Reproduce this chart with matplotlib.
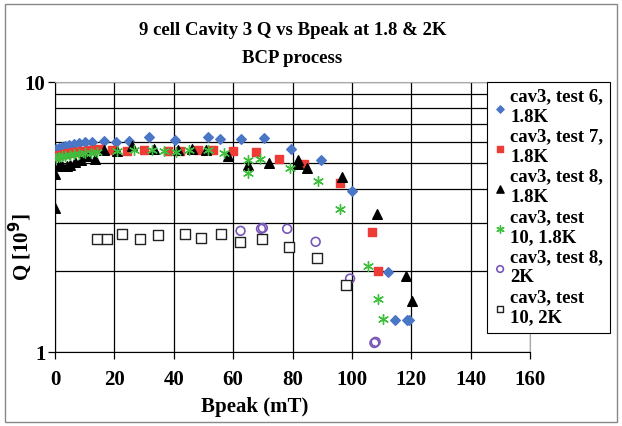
import matplotlib
matplotlib.use("Agg")
import matplotlib.pyplot as plt
from matplotlib.patches import Rectangle
from matplotlib.ticker import LogLocator, NullFormatter, FixedLocator, FixedFormatter, MultipleLocator

plt.rcParams['font.family'] = ['Liberation Serif', 'DejaVu Serif']
plt.rcParams['font.weight'] = 'bold'

# Q (units of 1e9) against peak field Bpeak (mT)
b_t6_18 = [0.5, 1.2, 2.4, 3.5, 4.6, 6.3, 8.0, 10.0, 12.3, 16.5, 20.7, 24.9, 31.7, 40.5,
           51.6, 55.6, 62.7, 70.5, 79.5, 89.7, 100.1, 112.3, 114.4, 118.5, 119.3]
q_t6_18 = [5.65, 5.70, 5.74, 5.78, 5.83, 5.90, 5.95, 5.98, 5.98, 6.07, 5.98, 6.03, 6.24, 6.12,
           6.24, 6.15, 6.15, 6.22, 5.67, 5.13, 3.95, 1.98, 1.31, 1.31, 1.31]

b_t7_18 = [0.5, 1.5, 3.0, 4.5, 6.0, 7.5, 9.1, 12.0, 14.8, 19.1, 24.1, 30.0, 38.2, 42.2,
           48.0, 53.1, 59.9, 67.7, 75.5, 83.8, 95.9, 106.9, 108.7]
q_t7_18 = [5.30, 5.35, 5.40, 5.45, 5.50, 5.52, 5.54, 5.58, 5.63, 5.58, 5.54, 5.58, 5.54, 5.54,
           5.58, 5.58, 5.54, 5.50, 5.20, 4.99, 4.21, 2.79, 1.99]

b_t8_18 = [0.0, 0.0, 1.2, 2.4, 4.1, 5.2, 6.9, 8.6, 10.8, 13.6, 16.5, 21.0, 26.0, 33.4,
           41.3, 46.3, 50.8, 58.4, 64.9, 72.2, 82.0, 82.0, 85.0, 96.7, 108.4, 118.2, 120.2]
q_t8_18 = [3.42, 4.56, 4.94, 4.90, 4.87, 4.94, 5.05, 5.16, 5.31, 5.17, 5.58, 5.54, 5.78, 5.65,
           5.58, 5.63, 5.58, 5.34, 4.94, 5.00, 5.15, 4.98, 4.82, 4.43, 3.24, 1.91, 1.55]

b_t10_18 = [0.5, 1.5, 2.5, 3.5, 5.0, 6.5, 8.0, 10.0, 12.0, 14.2, 21.0, 26.6, 32.8, 36.8,
            40.7, 45.2, 51.4, 57.0, 65.0, 65.0, 69.2, 79.0, 88.6, 95.9, 105.3, 108.7, 110.6]
q_t10_18 = [5.25, 5.28, 5.30, 5.33, 5.36, 5.40, 5.43, 5.46, 5.48, 5.50, 5.54, 5.58, 5.58, 5.54,
            5.50, 5.58, 5.58, 5.46, 5.16, 4.60, 5.18, 4.82, 4.30, 3.40, 2.09, 1.57, 1.32]

b_t8_2 = [62.5, 69.4, 70.0, 78.2, 87.8, 99.4, 107.6, 108.0]
q_t8_2 = [2.81, 2.86, 2.88, 2.86, 2.56, 1.87, 1.08, 1.09]

b_t10_2 = [14.0, 17.4, 22.5, 28.6, 34.8, 43.8, 49.1, 55.8, 62.3, 69.6, 78.9, 88.3, 98.0]
q_t10_2 = [2.62, 2.62, 2.73, 2.62, 2.71, 2.73, 2.64, 2.73, 2.56, 2.62, 2.44, 2.22, 1.77]

labels = ['cav3, test 6,\n1.8K', 'cav3, test 7,\n1.8K', 'cav3, test 8,\n1.8K',
          'cav3, test\n10, 1.8K', 'cav3, test 8,\n2K', 'cav3, test\n10, 2K']

fig = plt.figure(figsize=(6.22, 4.26), dpi=100)
ax = fig.add_axes([55 / 622, 1 - 352 / 426, 475 / 622, 270 / 426])

ax.scatter(b_t6_18, q_t6_18, marker='D', s=24, color='#4A76C6', label=labels[0], zorder=3)
ax.scatter(b_t7_18, q_t7_18, marker='s', s=28, color='#EE3B36', label=labels[1], zorder=3)
ax.scatter(b_t8_18, q_t8_18, marker='^', s=48, color='black', label=labels[2], zorder=3)
ax.scatter(b_t10_18, q_t10_18, marker=(6, 2, 0), s=50, color='#3DBE3D', linewidths=1.0,
           label=labels[3], zorder=3)
ax.scatter(b_t8_2, q_t8_2, marker='o', s=40, facecolors='none', edgecolors='#7A55B8',
           linewidths=1.2, label=labels[4], zorder=3)
ax.scatter(b_t10_2, q_t10_2, marker='s', s=44, facecolors='white', edgecolors='#222222',
           linewidths=1.0, label=labels[5], zorder=3)

ax.set_yscale('log')
ax.set_ylim(1, 10)
ax.set_xlim(0, 160)

ax.xaxis.set_major_locator(MultipleLocator(20))
ax.yaxis.set_major_locator(FixedLocator([1, 10]))
ax.yaxis.set_major_formatter(FixedFormatter(['1', '10']))
ax.yaxis.set_minor_locator(LogLocator(base=10, subs=range(2, 10)))
ax.yaxis.set_minor_formatter(NullFormatter())

ax.grid(True, which='both', axis='y', color='black', linewidth=0.9)
ax.grid(True, which='major', axis='x', color='black', linewidth=0.9)
ax.set_axisbelow(True)

ax.tick_params(axis='both', which='major', labelsize=15, length=5, width=0.9, direction='out')
ax.tick_params(axis='x', which='major', pad=8)
ax.tick_params(axis='y', which='major', pad=2)
ax.tick_params(axis='y', which='minor', length=0)
for lbl in ax.get_xticklabels() + ax.get_yticklabels():
    lbl.set_fontweight('bold')

ax.spines['left'].set_color('black')
ax.spines['bottom'].set_color('black')
ax.spines['top'].set_color('#AAAAAA')
ax.spines['right'].set_color('#AAAAAA')

ax.set_xlabel('Bpeak (mT)', fontsize=15, fontweight='bold')
ax.xaxis.set_label_coords(0.421, -0.165)
ax.set_ylabel('Q [10$^{\\mathbf{9}}$]', fontsize=15, fontweight='bold')
ax.yaxis.set_label_coords(-0.045, 0.39)
ax.set_title('9 cell Cavity 3 Q vs Bpeak at 1.8 & 2K\nBCP process', fontsize=13.5,
             fontweight='bold', pad=14, linespacing=1.8)

leg = fig.legend(loc='upper left', bbox_to_anchor=(487 / 622, 1 - 82 / 426), fontsize=13.5,
                 frameon=True, fancybox=False, edgecolor='black', framealpha=1,
                 handletextpad=0.2, handlelength=0.7, borderpad=0.35, labelspacing=0.15,
                 borderaxespad=0, markerscale=0.75)
leg.get_frame().set_linewidth(0.8)
leg.set_zorder(10)
for t in leg.get_texts():
    t.set_fontweight('bold')
    t.set_linespacing(1.25)

# outer border around the whole chart
fig.patches.append(Rectangle((5 / 622, 4 / 426), 612 / 622, 418 / 426, transform=fig.transFigure,
                             fill=False, edgecolor='#888888', linewidth=1.0))

fig.savefig('out.png', dpi=100)
